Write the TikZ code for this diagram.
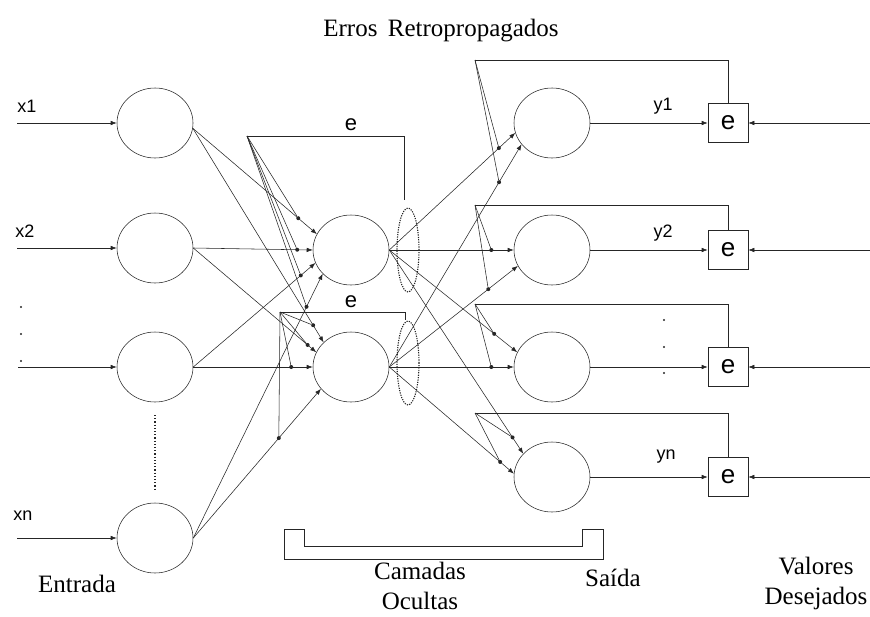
\documentclass[tikz,border=0pt]{standalone}
\usepackage{fontspec}
\setmainfont{Liberation Serif}
\newfontfamily\arialfont{Liberation Sans}
\usetikzlibrary{shapes.geometric,arrows.meta}

\begin{document}
\begin{tikzpicture}[x=1pt,y=-1pt,line width=0.55pt,black!85,text=black,
  >={Latex[length=6pt,width=4.5pt]},
  neuron/.style={draw,ellipse,minimum width=76pt,minimum height=70pt,inner sep=0pt},
  ebox/.style={draw,minimum width=40pt,minimum height=39pt,inner sep=0pt,
    font=\arialfont\fontsize{26}{26}\selectfont},
  junc/.style={circle,fill,inner sep=0pt,minimum size=4pt},
  sans/.style={font=\arialfont\fontsize{18}{18}\selectfont},
  bigtxt/.style={font=\fontsize{25}{30}\selectfont,align=center,inner sep=1pt}]
\useasboundingbox (0,0) rectangle (870,616);

\node[neuron] (i1) at (155,123) {};
\node[neuron] (i2) at (155,248) {};
\node[neuron] (i3) at (155,367) {};
\node[neuron] (i4) at (155,538) {};
\node[neuron] (h1) at (351,250) {};
\node[neuron] (h2) at (351,367) {};
\node[neuron] (o1) at (552,123) {};
\node[neuron] (o2) at (552,250) {};
\node[neuron] (o3) at (552,367) {};
\node[neuron] (o4) at (552,477) {};
\node[ebox] (b1) at (728,123) {e};
\node[ebox] (b2) at (728,250) {e};
\node[ebox] (b3) at (728,367) {e};
\node[ebox] (b4) at (728,477) {e};

\coordinate (in1) at (17,123);
\coordinate (in2) at (17,248);
\coordinate (in3) at (18,367);
\coordinate (in4) at (17,538);
\draw[->] (in1) -- (i1.west);
\draw[->] (in2) -- (i2.west);
\draw[->] (in3) -- (i3.west);
\draw[->] (in4) -- (i4.west);
\node[sans] (lx1) at (27,106) {x1};
\node[sans] (lx2) at (25,231) {x2};
\node[sans] (lxn) at (23,516) {xn};
\foreach \y in {307,334,361}
  \fill (21,\y) circle (1.2pt);
\draw[dotted,line width=1.2pt] (155,415) -- (155,490);

\draw[->] (i1.-8) -- node[junc,pos=0.85] (p11) {} (h1.155);
\draw[->] (i2.east) -- node[junc,pos=0.87] (p21) {} (h1.west);
\draw[->] (i3.east) -- node[junc,pos=0.88] (p31) {} (h1.200);
\draw[->] (i4.east) -- node[junc,pos=0.875] (p41) {} (h1.220);
\draw[->] (i1.-8) -- node[junc,pos=0.92] (p12) {} (h2.138);
\draw[->] (i2.east) -- node[junc,pos=0.93] (p22) {} (h2.157);
\draw[->] (i3.east) -- node[junc,pos=0.82] (p32) {} (h2.west);
\draw[->] (i4.east) -- node[junc,pos=0.67] (p42) {} (h2.216);

\coordinate (f1) at (247,136);
\coordinate (t1) at (404,200);
\coordinate (f2) at (280,312);
\coordinate (t2) at (405,320);
\draw (f1) -| (t1);
\draw (f2) -| (t2);
\node[font=\arialfont\fontsize{22}{22}\selectfont] (e1) at (351,125) {e};
\node[font=\arialfont\fontsize{22}{22}\selectfont] (e2) at (351,302) {e};
\foreach \d in {p11,p21,p31,p41}
  \draw (f1) -- (\d);
\foreach \d in {p12,p22,p32,p42}
  \draw (f2) -- (\d);
\draw[dash pattern=on 1.2pt off 1.2pt,line width=1.1pt] (408,250) ellipse [x radius=11pt,y radius=42pt];
\draw[dash pattern=on 1.2pt off 1.2pt,line width=1.1pt] (408,363) ellipse [x radius=11pt,y radius=42pt];

\draw[->] (h1.east) -- node[junc,pos=0.87] (q11) {} (o1.195);
\draw[->] (h2.east) -- node[junc,pos=0.83] (q21) {} (o1.215);
\draw[->] (h1.east) -- node[junc,pos=0.82] (q12) {} (o2.west);
\draw[->] (h2.east) -- node[junc,pos=0.77] (q22) {} (o2.205);
\draw[->] (h1.east) -- node[junc,pos=0.82] (q13) {} (o3.157);
\draw[->] (h2.east) -- node[junc,pos=0.82] (q23) {} (o3.west);
\draw[->] (h1.east) -- node[junc,pos=0.92] (q14) {} (o4.141);
\draw[->] (h2.east) -- node[junc,pos=0.89] (q24) {} (o4.175);

\coordinate (g1) at (475,60);
\coordinate (g2) at (475,205);
\coordinate (g3) at (475,304);
\coordinate (g4) at (475,413);
\draw (g1) -| (b1.north);
\draw (g2) -| (b2.north);
\draw (g3) -| (b3.north);
\draw (g4) -| (b4.north);
\draw (g1) -- (q11);
\draw (g1) -- (q21);
\draw (g2) -- (q12);
\draw (g2) -- (q22);
\draw (g3) -- (q13);
\draw (g3) -- (q23);
\draw (g4) -- (q14);
\draw (g4) -- (q24);

\draw[->] (o1.east) -- (b1.west);
\draw[->] (o2.east) -- (b2.west);
\draw[->] (o3.east) -- (b3.west);
\draw[->] (o4.east) -- (b4.west);
\node[sans] (ly1) at (663,106) {y1};
\node[sans] (ly2) at (663,233) {y2};
\node[sans] (lyn) at (666,457) {yn};
\foreach \y in {320,347,373}
  \fill (664,\y) circle (1.2pt);

\coordinate (r1) at (870,123);
\coordinate (r2) at (870,250);
\coordinate (r3) at (870,367);
\coordinate (r4) at (870,477);
\draw[->] (r1) -- (b1.east);
\draw[->] (r2) -- (b2.east);
\draw[->] (r3) -- (b3.east);
\draw[->] (r4) -- (b4.east);

\draw (284,529) -- (284,559) -- (603,559) -- (603,529) -- (582,529) -- (582,546)
 -- (304,546) -- (304,529) -- cycle;

\node[bigtxt] (ttl) at (441,31) {Erros\, Retropropagados};
\node[bigtxt] (ent) at (77,584) {Entrada};
\node[bigtxt] (cam) at (420,586) {Camadas\\Ocultas};
\node[bigtxt] (sai) at (613,578) {Saída};
\node[bigtxt] (val) at (816,583) {Valores\\Desejados};
\end{tikzpicture}
\end{document}
